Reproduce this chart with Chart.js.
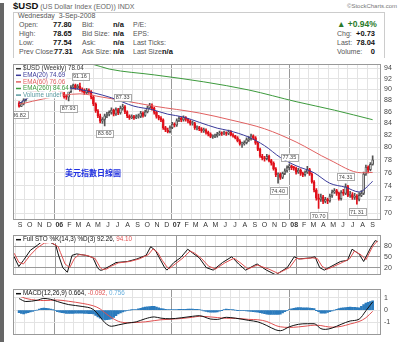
<!DOCTYPE html>
<html>
<head>
<meta charset="utf-8">
<script src="https://cdn.jsdelivr.net/npm/chart.js@4/dist/chart.umd.min.js"></script>
<style>
body { margin: 0; width: 400px; height: 342px; position: relative; overflow: hidden; background: #fff;
       font-family: "Liberation Sans", Arial, sans-serif; }
.t { position: absolute; white-space: nowrap; font-size: 7px; color: #555; line-height: 8px; }
.b { font-weight: bold; color: #111; font-size: 7.5px; }
#side { position: absolute; left: 0; top: 3px; width: 4px; height: 339px; background: #666; }
#info { position: absolute; left: 13px; top: 12px; width: 370px; height: 45px; border: 1px solid #ccc; border-bottom: none; }
canvas { position: absolute; left: 13px; }
#cn { position: absolute; left: 65px; top: 167px; font: bold 8px "Noto Sans CJK TC", sans-serif; color: #1f2fe0; }
</style>
</head>
<body>
<div id="side"></div>
<div class="t" style="left:13px;top:2px;font-size:7px;color:#666"><b style="font-size:9.5px;color:#111">$USD</b> (US Dollar Index (EOD)) INDX</div>
<div class="t" style="left:347px;top:2px;font-size:6px;color:#777">©StockCharts.com</div>
<div id="info"></div>
<div class="t" style="left:18px;top:12px">Wednesday&nbsp; 3-Sep-2008</div>
<div class="t" style="left:19px;top:21px">Open:</div><div class="t b" style="left:53px;top:21px">77.80</div>
<div class="t" style="left:19px;top:30px">High:</div><div class="t b" style="left:53px;top:30px">78.65</div>
<div class="t" style="left:19px;top:39px">Low:</div><div class="t b" style="left:53px;top:39px">77.54</div>
<div class="t" style="left:19px;top:48px">Prev Close:</div><div class="t b" style="left:54px;top:48px">77.31</div>
<div class="t" style="left:82px;top:21px">Bid:</div><div class="t b" style="left:113px;top:21px">n/a</div>
<div class="t" style="left:82px;top:30px">Bid Size:</div><div class="t b" style="left:113px;top:30px">n/a</div>
<div class="t" style="left:82px;top:39px">Ask:</div><div class="t b" style="left:113px;top:39px">n/a</div>
<div class="t" style="left:82px;top:48px">Ask Size:</div><div class="t b" style="left:113px;top:48px">n/a</div>
<div class="t" style="left:133px;top:21px">P/E:</div>
<div class="t" style="left:133px;top:30px">EPS:</div>
<div class="t" style="left:133px;top:39px">Last Ticks:</div>
<div class="t" style="left:133px;top:48px">Last Size:</div><div class="t b" style="left:162px;top:48px">n/a</div>
<div class="t" style="left:337px;top:20px;font-size:8.5px;font-weight:bold;color:#2a7a2a">&#9650; +0.94%</div>
<div class="t" style="left:337px;top:30px">Chg:</div><div class="t b" style="right:25px;top:30px">+0.73</div>
<div class="t" style="left:337px;top:39px">Last:</div><div class="t b" style="right:25px;top:39px">78.04</div>
<div class="t" style="left:337px;top:48px">Volume:</div><div class="t b" style="right:25px;top:48px">0</div>

<canvas id="price" width="387" height="171" style="top:57px"></canvas>
<canvas id="sto" width="387" height="54" style="top:228px"></canvas>
<canvas id="macd" width="387" height="60" style="top:282px"></canvas>
<div id="cn">美元指數日線圖</div>

<script>
// weekly bars, week 0 = 29 Aug 2005
var opens = [87.50,86.95,87.40,88.10,88.90,89.30,89.60,89.90,89.50,89.80,90.30,91.40,91.90,91.60,91.50,90.60,89.90,90.30,90.80,89.30,
  89.20,88.70,88.60,89.60,90.40,90.80,90.30,90.60,90.00,89.80,89.40,89.90,89.60,88.60,87.40,86.20,85.30,84.40,84.70,85.30,
  85.60,85.90,86.30,85.60,86.40,85.80,86.60,86.90,86.00,85.30,85.00,85.20,85.00,85.20,85.20,85.80,85.40,86.00,86.70,87.20,
  86.60,85.90,85.20,84.90,84.60,83.30,82.90,82.60,83.30,83.90,83.70,84.50,84.90,84.60,85.00,84.70,84.40,84.00,84.00,83.30,
  83.30,83.10,82.80,82.90,82.50,82.20,81.80,81.80,81.90,82.20,82.40,82.30,82.40,82.30,82.60,82.10,81.90,81.60,81.10,80.60,
  80.60,80.80,81.30,81.40,81.90,81.60,80.70,79.70,78.60,78.30,78.20,78.60,77.90,77.50,76.60,75.70,75.80,75.30,75.90,76.30,
  76.80,77.10,76.80,76.70,76.10,76.40,75.90,75.70,76.10,76.50,75.80,74.60,73.40,72.20,72.00,72.40,71.70,72.00,71.80,72.50,
  73.10,73.30,72.90,72.10,73.00,72.90,73.90,72.60,72.70,72.30,72.50,72.00,72.60,72.90,75.80,76.90,76.50,77.31];
var highs = [87.80,87.70,88.40,89.20,89.70,89.90,90.30,90.20,90.10,90.60,91.70,92.40,92.20,91.90,91.70,90.90,90.60,91.10,91.00,89.70,
  89.50,89.00,89.90,90.70,91.00,91.00,90.90,91.16,90.30,90.10,90.20,90.10,89.80,88.80,87.60,86.40,85.60,85.00,85.60,85.90,
  86.20,86.70,86.50,86.70,86.60,87.00,87.33,87.10,86.20,85.50,85.50,85.40,85.50,85.60,86.10,86.00,86.30,87.00,87.50,87.40,
  86.80,86.10,85.40,85.20,84.80,83.50,83.20,83.60,84.20,84.10,84.80,85.20,85.10,85.30,85.20,84.90,84.60,84.40,84.20,83.60,
  83.50,83.30,83.20,83.10,82.70,82.40,82.10,82.20,82.50,82.70,82.60,82.70,82.60,82.90,82.80,82.30,82.00,81.80,81.30,80.90,
  81.10,81.60,81.80,82.20,82.10,81.80,80.90,79.90,78.90,78.60,78.90,78.80,78.10,77.70,76.80,76.00,76.00,76.10,76.60,77.10,
  77.35,77.20,77.00,76.90,76.70,76.60,76.10,76.30,77.00,76.70,76.00,74.80,73.60,72.80,72.80,72.60,72.30,72.20,72.80,73.40,
  73.60,73.50,73.10,73.30,73.50,74.31,74.10,73.20,73.00,72.90,72.70,73.00,73.30,76.10,77.20,77.10,77.60,78.65];
var lows = [86.82,86.90,87.20,87.90,88.60,89.00,89.30,89.10,89.20,89.50,90.10,91.10,91.20,91.00,90.30,89.60,89.60,90.00,89.00,88.80,
  88.40,88.20,87.93,89.40,90.10,90.00,90.10,89.70,89.50,89.10,89.20,89.30,88.30,87.10,85.90,85.00,84.10,84.00,83.60,85.00,
  85.30,85.60,85.30,85.40,85.50,85.60,86.30,85.70,85.00,84.70,84.80,84.70,84.80,84.90,85.00,85.10,85.20,85.80,86.50,86.30,
  85.60,84.90,84.60,84.30,83.00,82.60,82.40,82.40,83.10,83.40,83.50,84.30,84.30,84.40,84.40,84.10,83.70,83.70,83.00,82.90,
  82.80,82.50,82.50,82.20,81.90,81.60,81.50,81.60,81.70,82.00,82.00,82.10,82.00,82.10,81.90,81.70,81.40,80.90,80.40,80.00,
  80.40,80.60,81.00,81.20,81.30,80.50,79.50,78.40,78.00,77.80,78.00,77.70,77.20,76.40,75.40,74.40,75.00,75.10,75.70,76.10,
  76.50,76.50,76.40,75.80,75.90,75.60,75.40,75.50,75.90,75.60,74.40,73.10,71.90,70.70,71.70,71.40,71.50,71.40,71.60,72.30,
  72.90,72.60,71.90,71.90,72.60,72.70,72.40,72.30,72.00,72.00,71.31,71.80,72.40,72.70,75.60,76.00,76.30,77.20];
var closes = [86.95,87.40,88.10,88.90,89.30,89.60,89.90,89.50,89.80,90.30,91.40,91.90,91.60,91.50,90.60,89.90,90.30,90.80,89.30,89.20,
  88.70,88.60,89.60,90.40,90.80,90.30,90.60,90.00,89.80,89.40,89.90,89.60,88.60,87.40,86.20,85.30,84.40,84.70,85.30,85.60,
  85.90,86.30,85.60,86.40,85.80,86.60,86.90,86.00,85.30,85.00,85.20,85.00,85.20,85.20,85.80,85.40,86.00,86.70,87.20,86.60,
  85.90,85.20,84.90,84.60,83.30,82.90,82.60,83.30,83.90,83.70,84.50,84.90,84.60,85.00,84.70,84.40,84.00,84.00,83.30,83.30,
  83.10,82.80,82.90,82.50,82.20,81.80,81.80,81.90,82.20,82.40,82.30,82.40,82.30,82.60,82.10,81.90,81.60,81.10,80.60,80.60,
  80.80,81.30,81.40,81.90,81.60,80.70,79.70,78.60,78.30,78.20,78.60,77.90,77.50,76.60,75.70,75.80,75.30,75.90,76.30,76.80,
  77.10,76.80,76.70,76.10,76.40,75.90,75.70,76.10,76.50,75.80,74.60,73.40,72.20,72.00,72.40,71.70,72.00,71.80,72.50,73.10,
  73.30,72.90,72.10,73.00,72.90,73.90,72.60,72.70,72.30,72.50,72.00,72.60,72.90,75.80,76.90,76.50,77.31,78.04];

// moving averages, read as [week, value]
var ema20 = [[0,87.5],[8,89.3],[20,90.3],[27,90.0],[33,89.4],[41,88.5],[51,87.0],[59,86.4],[66,85.6],[73,85.1],[80,84.2],
  [88,83.2],[93,82.8],[102,81.7],[109,80.3],[116,78.4],[123,77.1],[131,76.0],[138,74.4],[145,73.8],[151,73.1],[157,74.69]];
var ema60 = [[0,87.3],[12,88.4],[27,89.2],[37,88.6],[46,88.0],[60,87.0],[80,85.8],[94,84.6],[109,83.1],[123,80.9],[138,78.0],[152,76.0],[157,76.06]];
var ema260 = [[0,97.0],[16,95.8],[32,94.8],[40,93.8],[60,92.7],[82,91.4],[102,89.9],[123,87.8],[140,86.3],[157,84.64]];

// swing labels: [week, 'high' | 'low']
var swings = [[0,'low'],[22,'low'],[27,'high'],[38,'low'],[46,'high'],[115,'low'],[120,'high'],[133,'low'],[145,'high'],[150,'low']];

var stoK = [[0,50],[2,23],[4,40],[7,68],[10,82],[12,92],[15,92],[18,82],[19,58],[21,20],[23,7],[25,54],[27,58],[29,56],[31,54],
  [34,48],[36,20],[37,13],[38,13],[41,23],[44,34],[49,37],[53,44],[57,54],[59,78],[61,68],[63,44],[65,20],[66,13],[69,34],[72,48],
  [75,71],[77,61],[80,47],[83,20],[86,13],[90,34],[94,50],[97,30],[100,13],[104,27],[105,30],[109,13],[113,0],[118,20],[121,50],
  [123,44],[128,47],[130,50],[132,20],[134,13],[136,20],[141,37],[144,40],[146,71],[149,58],[151,37],[154,75],[156,95],[157,92.26]];
var stoD = [[0,60],[2,35],[4,30],[7,55],[10,75],[13,88],[16,90],[19,78],[20,62],[22,30],[24,20],[26,45],[28,56],[30,55],[32,53],
  [35,45],[37,22],[38,15],[40,16],[42,24],[45,33],[50,37],[54,44],[58,56],[60,72],[62,62],[64,40],[66,22],[67,17],[70,32],[73,47],
  [76,66],[78,60],[81,45],[84,24],[87,16],[91,33],[95,46],[98,32],[101,16],[105,27],[110,16],[114,4],[119,20],[122,46],[124,44],
  [129,47],[131,45],[133,24],[135,15],[137,20],[142,35],[145,45],[147,66],[150,55],[152,42],[155,80],[157,94.10]];

var macdLine = [[0,0.94],[3,0.70],[8,0.80],[11,0.95],[14,0.88],[17,0.70],[22,0.45],[28,0.30],[33,0.05],[36,-0.55],[38,-1.00],
  [41,-1.31],[44,-1.20],[48,-1.05],[52,-0.95],[56,-0.70],[60,-0.55],[63,-0.65],[67,-0.70],[72,-0.62],[77,-0.50],[80,-0.45],
  [85,-0.72],[88,-0.75],[92,-0.58],[96,-0.65],[102,-0.83],[106,-0.95],[110,-1.25],[114,-1.60],[116,-1.67],[120,-1.35],[124,-1.15],
  [128,-1.10],[131,-1.10],[134,-1.50],[136,-1.56],[139,-1.45],[143,-1.15],[147,-0.88],[151,-0.73],[154,-0.05],[157,0.664]];
var macdSignal = [[0,1.15],[3,0.95],[8,0.80],[11,0.78],[14,0.80],[17,0.82],[22,0.72],[28,0.55],[33,0.35],[36,0.10],[38,-0.20],
  [41,-0.60],[44,-0.90],[48,-1.02],[52,-1.00],[56,-0.95],[60,-0.85],[63,-0.78],[67,-0.74],[72,-0.68],[77,-0.58],[80,-0.50],
  [85,-0.55],[88,-0.60],[92,-0.66],[96,-0.66],[102,-0.75],[106,-0.78],[110,-0.92],[114,-1.25],[116,-1.35],[120,-1.40],[124,-1.36],
  [128,-1.28],[131,-1.22],[134,-1.25],[136,-1.32],[139,-1.38],[143,-1.32],[147,-1.12],[151,-0.92],[154,-0.62],[157,-0.092]];
var macdHist = [-0.21,-0.26,-0.30,-0.25,-0.20,-0.15,-0.10,-0.05,0.00,0.08,
  0.14,0.17,0.15,0.12,0.08,0.02,-0.05,-0.12,-0.16,-0.20,
  -0.23,-0.26,-0.27,-0.27,-0.26,-0.25,-0.24,-0.24,-0.25,-0.26,
  -0.27,-0.28,-0.29,-0.30,-0.42,-0.55,-0.65,-0.74,-0.80,-0.78,
  -0.75,-0.71,-0.58,-0.44,-0.30,-0.22,-0.15,-0.08,-0.03,0.00,
  0.02,0.04,0.05,0.10,0.15,0.20,0.25,0.27,0.29,0.30,
  0.30,0.24,0.18,0.13,0.10,0.07,0.05,0.04,0.04,0.05,
  0.05,0.06,0.06,0.07,0.07,0.08,0.08,0.08,0.07,0.06,
  0.05,0.00,-0.06,-0.11,-0.15,-0.17,-0.17,-0.16,-0.15,-0.08,
  -0.02,0.04,0.08,0.06,0.04,0.02,0.00,-0.01,-0.03,-0.04,
  -0.05,-0.07,-0.08,-0.10,-0.13,-0.15,-0.17,-0.21,-0.25,-0.29,
  -0.33,-0.34,-0.35,-0.35,-0.35,-0.34,-0.32,-0.22,-0.12,-0.03,
  0.05,0.10,0.15,0.19,0.21,0.20,0.19,0.18,0.18,0.16,
  0.14,0.12,-0.01,-0.13,-0.25,-0.25,-0.24,-0.18,-0.12,-0.07,
  0.00,0.06,0.12,0.17,0.19,0.21,0.23,0.24,0.23,0.22,
  0.20,0.19,0.32,0.45,0.57,0.64,0.70,0.756];

var monthLabels = ['S','O','N','D','06','F','M','A','M','J','J','A','S','O','N','D','07','F','M','A','M','J','J','A',
  'S','O','N','D','08','F','M','A','M','J','J','A','S'];
var priceTicks = [70,72,74,76,78,80,82,84,86,88,90,92,94];
var stoTicks = [20,50,80];
var macdTicks = [-1,0,1];

// month gridlines, in weeks from the first bar
var t0 = Date.UTC(2005, 7, 29);
var monthPos = monthLabels.map(function (l, i) { return (Date.UTC(2005, 8 + i, 1) - t0) / 6048e5; });
function isYear(i) { return /\d/.test(monthLabels[i] || ''); }

function xAxis(labels) {
  return {
    type: 'linear', min: -0.5, max: 158.5,
    afterBuildTicks: function (s) { s.ticks = monthPos.map(function (v) { return { value: v }; }); },
    afterFit: function (s) { s.height = labels ? 8 : 0; },
    grid: { drawTicks: false, color: function (c) { return isYear(c.index) ? '#999' : '#e3e3e3'; } },
    border: { display: false },
    ticks: {
      display: labels, autoSkip: false, maxRotation: 0, padding: 1, color: '#333',
      font: function (c) { return { size: 7, weight: isYear(c.index) ? 'bold' : 'normal' }; },
      callback: function (v, i) { return monthLabels[i]; }
    }
  };
}
function yAxis(o) {
  return Object.assign({
    position: 'right',
    afterFit: function (s) { s.width = 19; },
    grid: { drawTicks: false, color: '#e3e3e3' },
    border: { display: false },
    ticks: { padding: 3, color: '#444', font: { size: 7 }, callback: function (v) { return v; } }
  }, o);
}
function pts(a) { return a.map(function (p) { return { x: p[0], y: p[1] }; }); }
function line(data, color, extra) {
  return Object.assign({ type: 'line', data: pts(data), borderColor: color, borderWidth: 1, pointRadius: 0,
    cubicInterpolationMode: 'monotone', order: 0 }, extra || {});
}

var frame = {
  id: 'frame',
  afterDraw: function (c) {
    var a = c.chartArea, x = c.ctx;
    x.save(); x.strokeStyle = '#999'; x.lineWidth = 1;
    x.strokeRect(Math.round(a.left) + 0.5, Math.round(a.top) + 0.5, Math.round(a.width) - 1, Math.round(a.height) - 1);
    x.restore();
  }
};
// legend rows of [color, text] pieces, each row on its own white strip
function caption(rows) {
  return {
    id: 'caption',
    afterDatasetsDraw: function (c) {
      var a = c.chartArea, x = c.ctx;
      x.save();
      x.font = '6.3px "Liberation Sans", Arial'; x.textBaseline = 'middle';
      rows.forEach(function (r, j) {
        var y = a.top + 4.5 + j * 6.6, px = a.left + 3;
        var w = 7 + r.reduce(function (s, p) { return s + x.measureText(p[1]).width; }, 0);
        x.fillStyle = '#fff'; x.fillRect(a.left + 1, y - 3.3, w + 3, 6.6);
        x.strokeStyle = r[0][0]; x.lineWidth = 1.5;
        x.beginPath(); x.moveTo(px, y); x.lineTo(px + 5, y); x.stroke();
        px += 7;
        r.forEach(function (p) { x.fillStyle = p[0]; x.fillText(p[1], px, y); px += x.measureText(p[1]).width; });
      });
      x.restore();
    }
  };
}
var swingLabels = {
  id: 'swings',
  afterDatasetsDraw: function (c) {
    var x = c.ctx, sx = c.scales.x, sy = c.scales.y;
    x.save(); x.font = '5.5px "Liberation Sans", Arial'; x.textAlign = 'center'; x.textBaseline = 'middle';
    swings.forEach(function (s) {
      var w = s[0], v = s[1] === 'high' ? highs[w] : lows[w];
      var px = sx.getPixelForValue(w), py = sy.getPixelForValue(v) + (s[1] === 'high' ? -7 : 7.5);
      var t = v.toFixed(2), tw = x.measureText(t).width + 3;
      x.fillStyle = '#fff'; x.fillRect(px - tw / 2, py - 3.5, tw, 7);
      x.strokeStyle = '#aaa'; x.lineWidth = 1; x.strokeRect(Math.round(px - tw / 2) + 0.5, Math.round(py - 3.5) + 0.5, Math.round(tw), 7);
      x.fillStyle = '#444'; x.fillText(t, px, py + 0.5);
    });
    x.restore();
  }
};

var base = { responsive: false, animation: false, devicePixelRatio: 1, layout: { padding: 0 },
  plugins: { legend: { display: false }, tooltip: { enabled: false } } };

function up(i) { return closes[i] >= opens[i]; }
var idx = closes.map(function (v, i) { return i; });

new Chart(document.getElementById('price'), {
  type: 'bar',
  data: {
    datasets: [
      { data: idx.map(function (i) { return { x: i, y: [Math.min(opens[i], closes[i]), Math.max(opens[i], closes[i])] }; }),
        backgroundColor: idx.map(function (i) { return up(i) ? '#fff' : '#e0101a'; }),
        borderColor: idx.map(function (i) { return up(i) ? '#555' : '#e0101a'; }),
        borderWidth: 1, borderSkipped: false, barThickness: 2, minBarLength: 1, grouped: false, order: 1 },
      { data: idx.map(function (i) { return { x: i, y: [lows[i], highs[i]] }; }),
        backgroundColor: idx.map(function (i) { return up(i) ? '#555' : '#e0101a'; }),
        barThickness: 1, grouped: false, order: 2 },
      line(ema20, '#3a3a9a'),
      line(ema60, '#e06060'),
      line(ema260, '#3d9a3d')
    ]
  },
  options: Object.assign({}, base, {
    scales: {
      x: xAxis(true),
      y: yAxis({ type: 'logarithmic', min: 69.06, max: 94.73,
        afterBuildTicks: function (s) { s.ticks = priceTicks.map(function (v) { return { value: v }; }); } })
    }
  }),
  plugins: [frame, swingLabels, caption([
    [['#333', '$USD (Weekly) 78.04']],
    [['#3a3a9a', 'EMA(20) 74.69']],
    [['#e06060', 'EMA(60) 76.06']],
    [['#3d9a3d', 'EMA(260) 84.64']],
    [['#5a9aa0', 'Volume undef']]
  ])]
});

new Chart(document.getElementById('sto'), {
  type: 'line',
  data: { datasets: [ line(stoD, '#e05050', { cubicInterpolationMode: 'default', tension: 0 }),
                      line(stoK, '#111', { cubicInterpolationMode: 'default', tension: 0 }) ] },
  options: Object.assign({}, base, {
    scales: {
      x: xAxis(false),
      y: yAxis({ type: 'linear', min: 0, max: 110,
        afterBuildTicks: function (s) { s.ticks = stoTicks.map(function (v) { return { value: v }; }); },
        grid: { drawTicks: false, color: '#999', lineWidth: 1 } })
    }
  }),
  plugins: [frame, caption([[['#111', 'Full STO %K(14,3) %D(3) 92.26, '], ['#e05050', '94.10']]])]
});

new Chart(document.getElementById('macd'), {
  type: 'bar',
  data: {
    datasets: [
      line(macdLine, '#111'),
      line(macdSignal, '#e05050'),
      { data: macdHist.map(function (v, i) { return { x: i, y: v }; }), backgroundColor: '#2b7bbd',
        barThickness: 2, order: 3 }
    ]
  },
  options: Object.assign({}, base, {
    scales: {
      x: xAxis(false),
      y: yAxis({ type: 'linear', min: -2, max: 1.7,
        afterBuildTicks: function (s) { s.ticks = macdTicks.map(function (v) { return { value: v }; }); } })
    }
  }),
  plugins: [frame, caption([[['#111', 'MACD(12,26,9) 0.664, '], ['#e05050', '-0.092, '], ['#6ab0dd', '0.756']]])]
});
</script>
</body>
</html>
